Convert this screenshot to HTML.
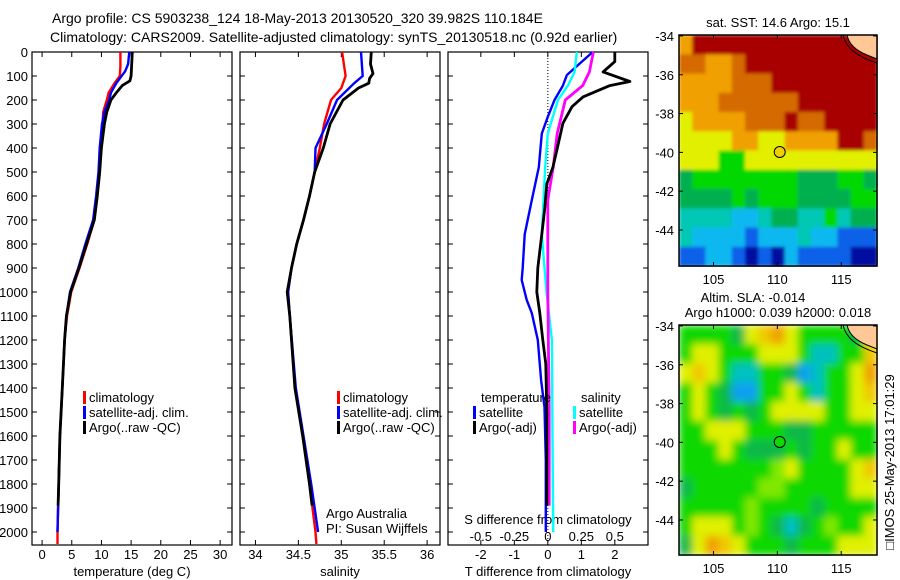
<!DOCTYPE html>
<html><head><meta charset="utf-8">
<style>
html,body{margin:0;padding:0;background:#fff;}
svg{display:block;font-family:"Liberation Sans",sans-serif;}
text{fill:#000;}
</style></head>
<body>
<svg id="fig" width="900" height="580" viewBox="0 0 900 580" xmlns="http://www.w3.org/2000/svg">
<defs>
<filter id="blur" x="0" y="0" width="1" height="1"><feGaussianBlur stdDeviation="4" edgeMode="duplicate"/></filter>
<filter id="blur2" x="0" y="0" width="1" height="1"><feGaussianBlur stdDeviation="1.5" edgeMode="duplicate"/></filter>
</defs>
<text x="52" y="23" font-size="14">Argo profile: CS 5903238_124 18-May-2013 20130520_320 39.982S 110.184E</text>
<text x="50" y="42" font-size="14">Climatology: CARS2009. Satellite-adjusted climatology: synTS_20130518.nc (0.92d earlier)</text>
<g id="g"></g>
</svg>
<script>
// ---------- data ----------
const tempDepth = [0,60,100,130,170,200,250,300,400,500,600,700,800,900,1000,1100,1200,1300,1400,1600,1800,2000,2050];
const tempClim  = [13.2,13.2,13.1,12.2,11.2,10.9,10.3,10.2,9.9,9.6,9.3,8.8,7.6,6.3,4.9,4.2,3.8,3.6,3.4,3.0,2.8,2.6,2.6];
const tempSatDepth = [0,50,80,130,170,200,250,300,400,500,600,700,800,900,1000,1100,1200,1400,1600,1800,2000];
const tempSat   = [14.7,14.5,14.0,12.5,11.6,11.3,10.5,10.1,9.7,9.5,9.1,8.6,7.3,6.1,4.7,4.1,3.8,3.4,3.0,2.8,2.6];
const argoDepth = [0,50,100,120,140,170,200,250,300,400,500,600,700,800,900,1000,1100,1200,1400,1600,1800,1890];
const tempArgo  = [15.2,15.1,15.0,14.8,13.5,12.5,11.6,10.9,10.5,10.0,9.7,9.3,8.8,7.5,6.2,4.8,4.1,3.8,3.4,3.0,2.8,2.7];

const salDepth = [0,100,150,200,300,400,500,600,700,800,900,1000,1100,1400,1600,1800,2000,2050];
const salClim  = [35.01,35.05,35.0,34.88,34.80,34.75,34.69,34.63,34.56,34.48,34.42,34.38,34.40,34.46,34.55,34.63,34.70,34.71];
const salSatDepth = [0,100,130,200,300,400,500,600,700,800,900,1000,1100,1400,1600,1800,2000];
const salSat   = [35.23,35.25,35.15,34.95,34.83,34.70,34.69,34.63,34.56,34.48,34.42,34.38,34.40,34.47,34.56,34.65,34.73];
const salArgoDepth = [0,50,90,110,130,150,200,300,400,500,600,700,800,900,1000,1100,1400,1600,1800,1890];
const salArgo  = [35.35,35.34,35.37,35.33,35.32,35.2,35.02,34.87,34.79,34.69,34.63,34.56,34.48,34.42,34.37,34.40,34.46,34.55,34.63,34.66];

const dTDepth = [0,96,140,200,270,340,480,617,760,900,950,1033,1088,1200,1367,1480,1700,2000];
const dTSat   = [1.34,0.57,0.45,0.2,0,-0.18,-0.27,-0.48,-0.69,-0.75,-0.78,-0.63,-0.48,-0.3,-0.2,-0.1,-0.06,-0.06];
const dTArgoDepth = [0,40,83,123,140,187,228,297,408,480,550,650,760,900,1000,1088,1200,1300,1500,1890];
const dTArgo  = [2.0,2.0,1.65,2.45,1.85,1.05,0.72,0.45,0.27,0.15,-0.03,-0.09,-0.18,-0.3,-0.33,-0.24,-0.15,-0.06,-0.03,-0.03];
const dSDepth = [0,83,140,200,340,480,760,1000,1200,1600,2000];
const dSSat   = [0.216,0.2,0.15,0.075,0,-0.02,-0.045,-0.01,0.03,0.035,0.04];
const dSArgoDepth = [0,83,140,200,340,480,617,1000,1500,1890];
const dSArgo  = [0.34,0.31,0.26,0.13,0.07,0.04,0,0,0.01,0.01];

const depthTicks = [0,100,200,300,400,500,600,700,800,900,1000,1100,1200,1300,1400,1500,1600,1700,1800,1900,2000];
const tempTicks = [0,5,10,15,20,25,30];
const salTicks = [34,34.5,35,35.5,36];
const salTickLabels = ["34","34.5","35","35.5","36"];
const dTTicks = [-2,-1,0,1,2];
const dSTicks = [-0.5,-0.25,0,0.25,0.5];
const dSTickLabels = ["-0.5","-0.25","0","0.25","0.5"];
const latTicks = [-34,-36,-38,-40,-42,-44];
const lonTicks = [105,110,115];

const sstGrid = [
"oRRRRRRRRRRRRRR",
"OOooORRRRRRRRRR",
"ooooOOORRRRRRRR",
"oooOOOOOORRRRRR",
"yooooOOOROORRRR",
"yyyyooyyooooRRO",
"yyyGGyyyyyyyyyy",
"gGGGGGGGGgggGGg",
"ggggGgGGGggggGG",
"ccccCCcggccGcgg",
"cCCCCbCCCcCCbbb",
"bbCCbBbBCbbbbBB"];
const slaGrid = [
"GGGGgyoOyGGGGgy",
"GyyGGGyyyGccGGo",
"yoyGccGGgCcGGyO",
"GyGgCCGGyGcGGyo",
"GyGgGgGyyyyGGyy",
"GGyyyGGGggGGGGG",
"GGGyGgggGgGGyGG",
"GGGGGGGlyGGGGyo",
"gGGGGGllGGGGGyy",
"GGGGGlGGGGgGGGG",
"GyyyGlGgcgGlGGy",
"gyOoyGGGgGGGyyy"];
const sstColors = {R:"#a80000",O:"#d46a00",o:"#f0a000",y:"#e2f000",G:"#00d800",g:"#00b050",c:"#00c8b4",C:"#10b8f0",b:"#1060e8",B:"#0008a0"};
const slaColors = {G:"#10d800",g:"#10b848",l:"#80e800",y:"#e0f000",o:"#f0c800",O:"#f0a000",c:"#00c0c0",C:"#10a0f0"};
const argoLon = 110.184, argoLat = -39.982;

// ---------- helpers ----------
const NS="http://www.w3.org/2000/svg";
const G=document.getElementById('g');
function el(tag,attrs,parent){const e=document.createElementNS(NS,tag);for(const k in attrs)e.setAttribute(k,attrs[k]);(parent||G).appendChild(e);return e;}
function txt(s,x,y,anchor,size,parent){const t=el('text',{x:x,y:y,'text-anchor':anchor||'start','font-size':size||13},parent);t.textContent=s;return t;}

const PT=52, PB=545;
const yDepth = d => PT + d*0.24;
const panels = [
 {x0:32,x1:232,dom:[-1.7,32],name:'temperature-panel'},
 {x0:240,x1:440,dom:[33.82,36.15],name:'salinity-panel'},
 {x0:448,x1:648,dom:[-2.98,2.99],name:'difference-panel'}];
function sx(p,v){return p.x0+(v-p.dom[0])/(p.dom[1]-p.dom[0])*(p.x1-p.x0);}
const sxS = v => sx(panels[2], v*4);

function line(xs,ys,color,w,name,fx){
  let d='';for(let i=0;i<xs.length;i++){d+=(i?'L':'M')+fx(xs[i]).toFixed(1)+','+yDepth(ys[i]).toFixed(1);}
  const p=el('path',{d:d,fill:'none',stroke:color,'stroke-width':w,'stroke-linejoin':'round'});
  
  
}

panels.forEach((p,pi)=>{
  const r=el('rect',{x:p.x0,y:PT,width:p.x1-p.x0,height:PB-PT,fill:'none',stroke:'#000','stroke-width':1.2});
  
  
  depthTicks.forEach(d=>{
    el('line',{x1:p.x0,x2:p.x0+5,y1:yDepth(d),y2:yDepth(d),stroke:'#000'});
    el('line',{x1:p.x1,x2:p.x1-5,y1:yDepth(d),y2:yDepth(d),stroke:'#000'});
  });
});
depthTicks.forEach(d=>{
  const t=txt(String(d),28,yDepth(d)+5,'end',13);
  
  
});
tempTicks.forEach(v=>{const x=sx(panels[0],v);el('line',{x1:x,x2:x,y1:PB,y2:PB-5,stroke:'#000'});el('line',{x1:x,x2:x,y1:PT,y2:PT+5,stroke:'#000'});
  const t=txt(String(v),x,559,'middle',13);});
salTicks.forEach((v,i)=>{const x=sx(panels[1],v);el('line',{x1:x,x2:x,y1:PB,y2:PB-5,stroke:'#000'});el('line',{x1:x,x2:x,y1:PT,y2:PT+5,stroke:'#000'});
  const t=txt(salTickLabels[i],x,559,'middle',13);});
dTTicks.forEach(v=>{const x=sx(panels[2],v);el('line',{x1:x,x2:x,y1:PB,y2:PB-5,stroke:'#000'});el('line',{x1:x,x2:x,y1:PT,y2:PT+5,stroke:'#000'});
  const t=txt(String(v),x,559,'middle',13);});
dSTicks.forEach((v,i)=>{const t=txt(dSTickLabels[i],sxS(v),541,'middle',13);});
el('line',{x1:sx(panels[2],0),x2:sx(panels[2],0),y1:PT,y2:PB,stroke:'#000','stroke-dasharray':'1,2'});

[['temperature (deg C)',132,'temp-axis-title'],['salinity',340,'salinity-axis-title'],['T difference from climatology',548,'tdiff-axis-title']].forEach(a=>{
  const t=txt(a[0],a[1],576,'middle',13);});
{const t=txt('S difference from climatology',548,524,'middle',13);}

line(tempClim,tempDepth,'#f00',2.4,'temp-climatology-line',v=>sx(panels[0],v));
line(tempSat,tempSatDepth,'#00f',2.4,'temp-satellite-line',v=>sx(panels[0],v));
line(tempArgo,argoDepth,'#000',2.8,'temp-argo-line',v=>sx(panels[0],v));
line(salClim,salDepth,'#f00',2.4,'sal-climatology-line',v=>sx(panels[1],v));
line(salSat,salSatDepth,'#00f',2.4,'sal-satellite-line',v=>sx(panels[1],v));
line(salArgo,salArgoDepth,'#000',2.8,'sal-argo-line',v=>sx(panels[1],v));
line(dTSat,dTDepth,'#00f',2.4,'tdiff-satellite-line',v=>sx(panels[2],v));
line(dSSat,dSDepth,'#0ff',2.4,'sdiff-satellite-line',sxS);
line(dSArgo,dSArgoDepth,'#f0f',2.8,'sdiff-argo-line',sxS);
line(dTArgo,dTArgoDepth,'#000',2.8,'tdiff-argo-line',v=>sx(panels[2],v));

function leg(x,y,color,label,name){
  el('rect',{x:x,y:y-11,width:3,height:13,fill:color});
  const t=txt(label,x+6,y,'start',13);
  
  
}
leg(83,402,'#f00','climatology','legend-climatology');
leg(83,417,'#00f','satellite-adj. clim.','legend-satellite-adj');
leg(83,432,'#000','Argo(..raw -QC)','legend-argo');
leg(337,402,'#f00','climatology','legend-climatology-2');
leg(337,417,'#00f','satellite-adj. clim.','legend-satellite-adj-2');
leg(337,432,'#000','Argo(..raw -QC)','legend-argo-2');
{const t=txt('temperature',481,402,'start',13);}
{const t=txt('salinity',581,402,'start',13);}
leg(473,417,'#00f','satellite','legend-t-satellite');
leg(473,432,'#000','Argo(-adj)','legend-t-argo');
leg(573,417,'#0ff','satellite','legend-s-satellite');
leg(573,432,'#f0f','Argo(-adj)','legend-s-argo');
{const t=txt('Argo Australia',326,518,'start',13);}
{const t=txt('PI: Susan Wijffels',326,533,'start',13);}

const MX0=679,MX1=877,LON0=102.3,LON1=117.8;
function drawMap(y0,y1,grid,colors,name,marker,filt){
  const lat0=-33.95, lat1=lat0-(y1-y0)/19.4;
  const mx=l=>MX0+(l-LON0)/(LON1-LON0)*(MX1-MX0);
  const my=l=>y0+(lat0-l)/(lat0-lat1)*(y1-y0);
  const g=el('g',{});
  
  
  const cells=el('g',{filter:'url(#'+filt+')'},g);
  const rows=grid.length, cols=grid[0].length;
  const cw=(MX1-MX0)/cols, ch=(y1-y0)/rows;
  for(let r=0;r<rows;r++)for(let c=0;c<cols;c++){
    el('rect',{x:(MX0+c*cw).toFixed(1),y:(y0+r*ch).toFixed(1),width:(cw+0.6).toFixed(1),height:(ch+0.6).toFixed(1),fill:colors[grid[r][c]]},cells);
  }
  el('path',{d:`M${MX0+168},${y0} C${MX0+170},${y0+9} ${MX0+176},${y0+15} ${MX0+188},${y0+20} L${MX1},${y0+24} L${MX1},${y0} Z`,fill:'#ffc896',stroke:'#000','stroke-width':1},g);
  el('path',{d:`M${MX0+164},${y0} C${MX0+167},${y0+13} ${MX0+177},${y0+21} ${MX1},${y0+28}`,fill:'none',stroke:'#000','stroke-width':1},g);
  el('rect',{x:MX0,y:y0,width:MX1-MX0,height:y1-y0,fill:'none',stroke:'#000','stroke-width':1.5},g);
  latTicks.forEach(l=>{const y=my(l);el('line',{x1:MX0,x2:MX0+4,y1:y,y2:y,stroke:'#000'},g);el('line',{x1:MX1,x2:MX1-4,y1:y,y2:y,stroke:'#000'},g);
    const t=txt(String(l),674,y+5,'end',13,g);});
  lonTicks.forEach(l=>{const x=mx(l);el('line',{x1:x,x2:x,y1:y1,y2:y1-4,stroke:'#000'},g);el('line',{x1:x,x2:x,y1:y0,y2:y0+4,stroke:'#000'},g);
    const t=txt(String(l),x,y1+18,'middle',13,g);});
  const c=el('circle',{cx:mx(argoLon),cy:my(argoLat),r:5.5,fill:marker,stroke:'#000','stroke-width':1},g);
  
  
}
drawMap(35,266,sstGrid,sstColors,'sst-map','#f0d000','blur2');
drawMap(325,555,slaGrid,slaColors,'sla-map','#10d800','blur');
{const t=txt('sat. SST: 14.6 Argo: 15.1',778,27,'middle',13);}
{const t=txt('Altim. SLA: -0.014',753,302,'middle',13);}
{const t=txt('Argo h1000: 0.039 h2000: 0.018',778,317,'middle',13);}
{const t=txt('\u25A1IMOS 25-May-2013 17:01:29',0,0,'middle',13);t.setAttribute('transform','translate(894,462) rotate(-90)');}
</script>
</body></html>
